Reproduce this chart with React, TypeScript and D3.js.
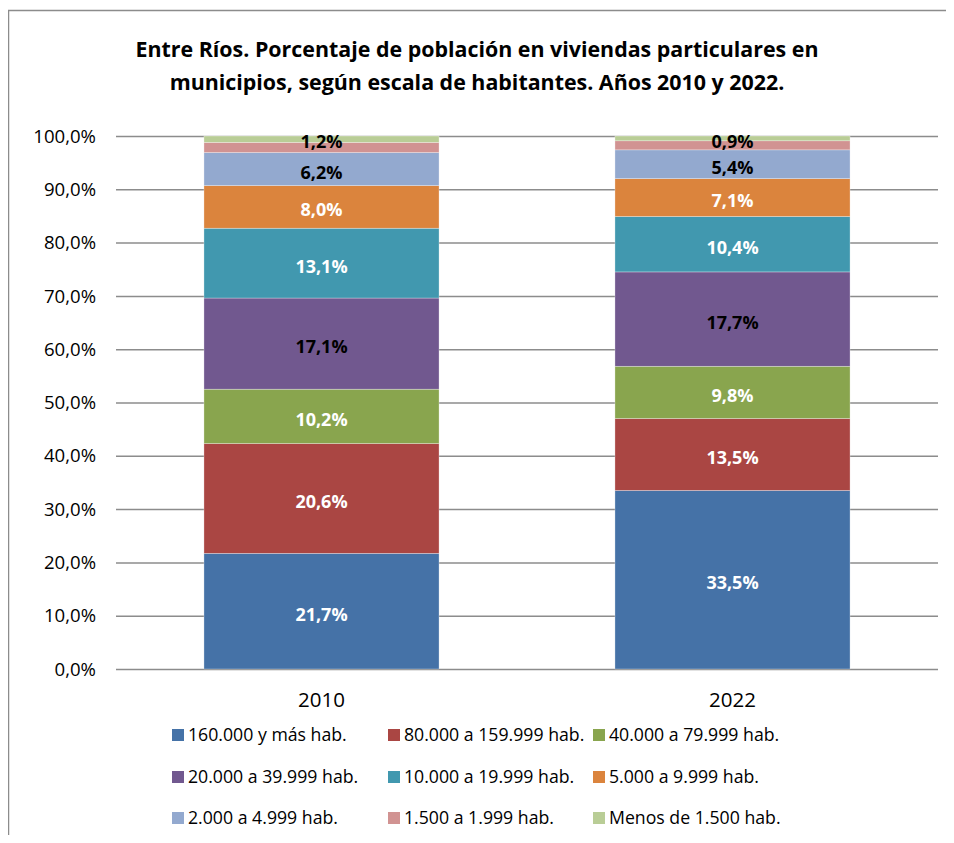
import React, { useEffect, useRef } from 'react';
import * as d3 from 'd3';

const years = ['2010', '2022'];
const seriesNames = [
  '160.000 y más hab.',
  '80.000 a 159.999 hab.',
  '40.000 a 79.999 hab.',
  '20.000 a 39.999 hab.',
  '10.000 a 19.999 hab.',
  '5.000 a 9.999 hab.',
  '2.000 a 4.999 hab.',
  '1.500 a 1.999 hab.',
  'Menos de 1.500 hab.',
];
const values2010 = [21.7, 20.6, 10.2, 17.1, 13.1, 8.0, 6.2, 1.9, 1.2];
const values2022 = [33.5, 13.5, 9.8, 17.7, 10.4, 7.1, 5.4, 1.7, 0.9];
const colors = ['#4572A7', '#AA4643', '#89A54E', '#71588F', '#4198AF', '#DB843D', '#93A9CF', '#D19392', '#B9CD96'];
const labelColors = ['#fff', '#fff', '#fff', '#000', '#fff', '#fff', '#000', null, '#000'];
const yTicks = [0, 10, 20, 30, 40, 50, 60, 70, 80, 90, 100];

const fmt = (v: number) => v.toFixed(1).replace('.', ',');

const App: React.FC = () => {
  const svgRef = useRef<SVGSVGElement>(null);

  useEffect(() => {
    if (!svgRef.current) return;
    const svg = d3.select(svgRef.current);
    svg.selectAll('*').remove();

    const font = "'Open Sans', 'DejaVu Sans', sans-serif";

    // frame
    svg.append('path')
      .attr('d', 'M8.5,843 L8.5,10.5 L954,10.5')
      .attr('fill', 'none')
      .attr('stroke', '#8c8c8c')
      .attr('stroke-width', 1.5);

    // title
    const title = svg.append('text')
      .attr('text-anchor', 'middle')
      .attr('font-family', font)
      .attr('font-weight', 'bold')
      .attr('font-size', 21.4)
      .attr('fill', '#000');
    title.append('tspan').attr('x', 477).attr('y', 57)
      .text('Entre Ríos. Porcentaje de población en viviendas particulares en');
    title.append('tspan').attr('x', 477).attr('y', 90)
      .text('municipios, según escala de habitantes. Años 2010 y 2022.');

    const x = d3.scaleBand<string>().domain(years).range([116, 938]).paddingInner(0.428).paddingOuter(0.214);
    const y = d3.scaleLinear().domain([0, 100]).range([669, 136]);

    // grid
    svg.append('g').selectAll('line').data(yTicks).join('line')
      .attr('x1', 116).attr('x2', 938)
      .attr('y1', d => y(d) + 0.5).attr('y2', d => y(d) + 0.5)
      .attr('stroke', '#8c8c8c').attr('stroke-width', 1.5);

    svg.append('g').selectAll('text').data(yTicks).join('text')
      .attr('x', 96).attr('y', d => y(d))
      .attr('dy', '0.36em')
      .attr('text-anchor', 'end')
      .attr('font-family', font).attr('font-size', 18.6)
      .text(d => fmt(d) + '%');

    // stacked bars
    const data = [values2010, values2022];
    data.forEach((vals, i) => {
      let acc = 0;
      const g = svg.append('g');
      vals.forEach((v, j) => {
        const y0 = acc;
        const y1 = acc + v;
        acc = y1;
        g.append('rect')
          .attr('x', x(years[i])!)
          .attr('width', x.bandwidth())
          .attr('y', y(y1))
          .attr('height', y(y0) - y(y1))
          .attr('fill', colors[j])
          .attr('stroke', '#fff')
          .attr('stroke-opacity', 0.5)
          .attr('stroke-width', 0.6);
        if (labelColors[j]) {
          g.append('text')
            .attr('x', x(years[i])! + x.bandwidth() / 2)
            .attr('y', j === 8 ? y(y1) + 6 : y((y0 + y1) / 2) + 3)
            .attr('dy', '0.36em')
            .attr('text-anchor', 'middle')
            .attr('font-family', font).attr('font-weight', 'bold').attr('font-size', 18)
            .attr('fill', labelColors[j]!)
            .text(fmt(v) + '%');
        }
      });
    });

    // x labels
    svg.append('g').selectAll('text').data(years).join('text')
      .attr('x', d => x(d)! + x.bandwidth() / 2)
      .attr('y', 700).attr('dy', '0.36em')
      .attr('text-anchor', 'middle')
      .attr('font-family', font).attr('font-size', 20.5)
      .text(d => d);

    // legend
    const colX = [172, 388, 593];
    const rowY = [735, 777, 818];
    const lg = svg.append('g');
    seriesNames.forEach((name, k) => {
      const cx = colX[k % 3];
      const cy = rowY[Math.floor(k / 3)];
      lg.append('rect').attr('x', cx).attr('y', cy - 6).attr('width', 12).attr('height', 12).attr('fill', colors[k]);
      lg.append('text')
        .attr('x', cx + 16).attr('y', cy).attr('dy', '0.36em')
        .attr('font-family', font).attr('font-size', 17.7)
        .text(name);
    });
  }, []);

  return <svg ref={svgRef} width={954} height={843} style={{ display: 'block', margin: '-8px' }} />;
};

export default App;
